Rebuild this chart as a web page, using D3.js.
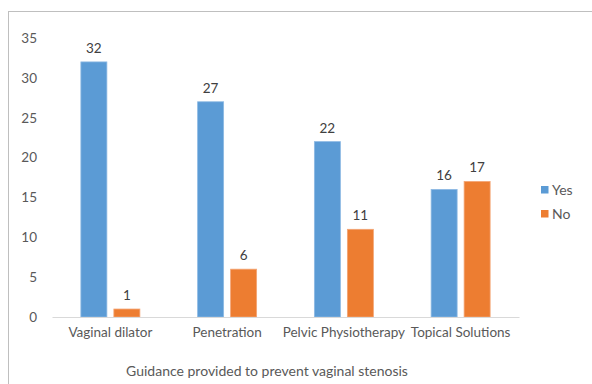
<!DOCTYPE html>
<html>
<head>
<meta charset="utf-8">
<script src="https://cdn.jsdelivr.net/npm/d3@7"></script>
<style>
  html, body { margin: 0; padding: 0; background: #fff; }
  svg { display: block; font-family: Lato, "Open Sans", sans-serif; }
</style>
</head>
<body>
<svg id="chart" width="592" height="384"></svg>
<script>
const categories = ["Vaginal dilator", "Penetration", "Pelvic Physiotherapy", "Topical Solutions"];
const seriesNames = ["Yes", "No"];
const yesValues = [32, 27, 22, 16];
const noValues = [1, 6, 11, 17];
const yTicks = [0, 5, 10, 15, 20, 25, 30, 35];
const xTitle = "Guidance provided to prevent vaginal stenosis";
const colors = ["#5B9BD5", "#ED7D31"];
const strokes = ["#8DB9E3", "#F3A575"];

const seriesValues = [yesValues, noValues];
const svg = d3.select("#chart");
const FS = "14px";

// frame
svg.append("rect")
  .attr("x", 8.5).attr("y", 11.5)
  .attr("width", 600).attr("height", 400)
  .attr("fill", "none").attr("stroke", "#bfbfbf").attr("stroke-width", 1);

const plotLeft = 52, plotRight = 519, plotTop = 38, plotBottom = 317;

const y = d3.scaleLinear().domain([0, 35]).range([plotBottom, plotTop]);
const x0 = d3.scaleBand().domain(categories).range([plotLeft, plotRight]).padding(0);
const x1 = d3.scaleBand().domain(seriesNames).range([0, x0.bandwidth()])
  .paddingInner(0.212).paddingOuter(0.875);

// y axis labels
const yAxis = d3.axisLeft(y).tickValues(yTicks).tickSize(0).tickPadding(0);
const gy = svg.append("g").attr("transform", `translate(37,0)`).call(yAxis);
gy.select(".domain").remove();
gy.selectAll("text").attr("fill", "#595959").style("font-size", "13.5px")
  .style("font-family", "Lato, 'Open Sans', sans-serif");

// bars
const groups = svg.append("g").selectAll("g")
  .data(categories)
  .join("g")
  .attr("transform", d => `translate(${x0(d)},0)`);

groups.selectAll("rect")
  .data((d, i) => seriesNames.map((s, j) => ({ s, j, v: seriesValues[j][i] })))
  .join("rect")
  .attr("x", d => x1(d.s))
  .attr("y", d => y(d.v))
  .attr("width", x1.bandwidth())
  .attr("height", d => y(0) - y(d.v))
  .attr("fill", d => colors[d.j])
  .attr("stroke", d => strokes[d.j])
  .attr("stroke-width", 0.8);

groups.selectAll("text.val")
  .data((d, i) => seriesNames.map((s, j) => ({ s, j, v: seriesValues[j][i] })))
  .join("text")
  .attr("class", "val")
  .attr("x", d => x1(d.s) + x1.bandwidth() / 2)
  .attr("y", d => y(d.v) - 9)
  .attr("text-anchor", "middle")
  .attr("fill", "#404040")
  .style("font-size", "13.5px")
  .text(d => d.v);

// x axis
const xAxis = d3.axisBottom(x0).tickSize(0).tickPadding(10);
const gx = svg.append("g").attr("transform", `translate(0,${plotBottom})`).call(xAxis);
gx.select(".domain").attr("stroke", "#d9d9d9").attr("stroke-width", 1);
gx.selectAll("text").attr("fill", "#595959").style("font-size", "13.5px")
  .style("font-family", "Lato, 'Open Sans', sans-serif");

// x title
svg.append("text")
  .attr("x", 267).attr("y", 376)
  .attr("text-anchor", "middle")
  .attr("fill", "#595959")
  .style("font-size", FS)
  .text(xTitle);

// legend
const leg = svg.append("g").attr("transform", "translate(541,186)");
const li = leg.selectAll("g").data(seriesNames).join("g")
  .attr("transform", (d, i) => `translate(0,${i * 24})`);
li.append("rect").attr("width", 7.5).attr("height", 7.5)
  .attr("fill", (d, i) => colors[i]);
li.append("text").attr("x", 11).attr("y", 4).attr("dy", "0.35em")
  .attr("fill", "#595959").style("font-size", FS).text(d => d);
</script>
</body>
</html>
